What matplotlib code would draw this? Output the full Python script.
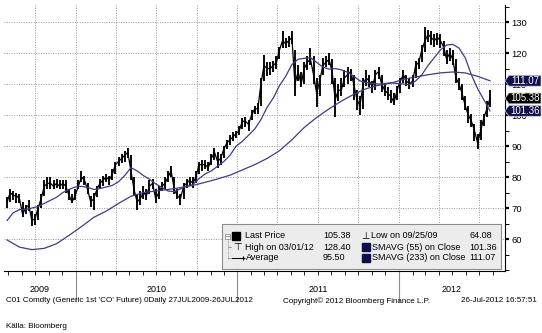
import matplotlib

matplotlib.use("Agg")

import matplotlib.pyplot as plt
import matplotlib.dates as mdates
import pandas as pd
from matplotlib.patches import Polygon, Rectangle
from matplotlib.lines import Line2D
from matplotlib.ticker import MultipleLocator
from matplotlib.transforms import blended_transform_factory

plt.rcParams["font.family"] = ["Liberation Sans", "DejaVu Sans"]

W, H = 542, 333
NAVY = "#0f0f4d"
MA_LINE = "#3d3d85"
GRID = "#9a9a9a"

# weekly Brent front-month bars, 27 Jul 2009 - 26 Jul 2012
close = [72, 75, 74, 74, 73, 68, 70, 71, 66, 66.5, 70, 73, 77, 78, 78, 77, 78, 77, 78, 77, 74, 72, 74, 77,
         80, 79, 76, 72, 73, 76, 78, 79, 80, 79, 81, 84, 85, 86, 87, 88,
         82, 76, 72, 73, 75, 74, 77, 78, 73, 75, 77, 78, 80, 82, 76, 74, 73, 77, 78, 79, 78, 80, 84, 84, 84,
         83, 86, 88, 85, 86, 89, 91, 92, 93, 94,
         95, 98, 98, 97, 100, 102, 102, 110, 116, 115, 115, 116, 117, 121, 124, 123, 124, 125, 110, 114,
         110, 115, 117, 118, 113, 107, 111, 116, 117, 118, 114, 105, 108, 108, 112, 113, 114, 110, 105, 103,
         110, 112, 111,
         109, 113, 114, 110, 108, 107, 106, 104, 108, 111, 113, 111, 110, 111, 116, 117, 121, 124, 126, 125,
         124, 125, 124, 122, 118, 120, 118, 112, 110, 107, 103, 100, 98, 95, 91, 95, 99, 102, 105.38]
lows = [70, 72, 72.5, 71.5, 71.5, 67, 68, 69, 64.08, 64.5, 66, 70, 74, 76, 76, 76, 76.5, 76, 76, 75, 72.5, 71.5, 72.5, 76,
        78.5, 77.5, 74.5, 70.5, 69.5, 73.5, 76, 77, 78.5, 77.5, 79, 81, 83.5, 84.5, 85, 86,
        79, 74, 69.5, 71, 73, 72.5, 74.5, 76, 71.5, 73, 75.5, 76, 78.5, 80, 74.5, 73, 71, 73, 76.5, 77,
        76.5, 78, 81, 82, 82.5, 82, 84, 85.5, 83, 84, 86, 89, 90.5, 91.5, 92.5,
        93.5, 95.5, 96, 95, 98.5, 100.5, 100.5, 103, 111, 112.5, 113, 114, 115, 118, 121.5, 121.5, 122, 123,
        106, 111, 109, 110, 114.5, 116, 110, 102.5, 106, 113, 115.5, 116, 110, 99.4, 104.5, 106, 109, 110,
        111, 105, 101.5, 100, 102, 109.5, 109,
        107, 108, 111.5, 107.5, 106, 105, 104, 103.2, 105, 107, 110.5, 109.5, 108.5, 109, 112, 115, 117, 120.5,
        123.5, 122.5, 122, 122.5, 121.5, 119, 116.5, 117.5, 116, 110.5, 108, 105, 101.5, 97.5, 96, 91.5, 89.2,
        92, 96.5, 99.5, 102.5]
highs = [73.5, 76, 75.5, 75, 74.5, 72, 71, 72.5, 69, 68, 71, 74.5, 79, 80, 80, 79, 79.5, 79, 79, 79, 76, 74.5, 76, 79,
         82, 80.5, 78, 74, 75, 77, 79.5, 80.5, 81, 80.5, 82.5, 85, 86.5, 87.5, 88.5, 89.5,
         87, 80, 74.5, 75.5, 77, 76, 79, 79.5, 76, 77, 78.5, 80, 82, 83.5, 80, 76, 74.5, 78, 79.5, 80,
         80, 82, 85, 85.5, 85.5, 85, 87.5, 89.5, 88, 87.5, 90, 92, 93.5, 94.5, 95,
         96.5, 99, 99.5, 98.5, 101.5, 103, 104, 112, 119.5, 117, 117, 117.5, 119, 122, 127, 125, 125.5, 127,
         121, 116, 114, 117, 119, 121.6, 119, 112, 113, 118.5, 119, 120, 118, 112, 110, 112, 114.5, 115.5,
         115, 113, 108, 106, 112, 114.5, 113,
         111, 114.5, 115.5, 113, 110, 109, 108, 107, 109.5, 112, 114.5, 113, 112, 113, 117.5, 118.5, 122.5, 128.4,
         127.5, 127, 126, 126.5, 126, 124, 121, 121.5, 121, 118, 112, 110, 106, 103, 100.5, 97, 94,
         98.5, 100.5, 104.5, 108]

# SMAVG(55) read every 2nd week, SMAVG(233) every 4th week
sma55 = [66, 68.5, 69.5, 69.5, 70, 70.5, 71.5, 72.5, 73.5, 75, 76,
         76.8, 77, 76.7, 76, 76.3, 76.8, 77.3, 78.5, 80.5, 83,
         82, 80.5, 79.3, 77.8, 76.7, 75.5, 75.3, 76.2, 77, 77.6,
         79.5, 81, 82, 83.5, 85, 87, 90, 91.5, 93.5, 95.5,
         98.5, 102.5, 105.5, 109.5, 112.5, 116.3, 118, 118.3, 118.5, 117,
         115.5, 114.8, 115, 114.6, 113.8, 112.5, 111, 110.5, 110.2, 110,
         110.2, 110.4, 110.2, 110, 109.8, 111, 113, 116, 118.5, 121,
         122.6, 122.8, 121.6, 118.5, 113, 108.5, 105, 101.36]
sma233 = [59.7, 57.4, 56.6, 57, 58.5, 61.2, 64, 67, 69, 71.5, 73.8, 75, 75.5, 76, 76.6, 77.3, 78.3, 79.4,
          80.6, 82.3, 84, 86, 88.5, 92, 96, 99.2, 102, 104.5, 106.7, 108.5, 109.6, 110.3, 111.5, 112.3,
          113, 113.6, 113.9, 113.6, 112.5, 111.07]
average_txt = "95.50"

dates = pd.date_range("2009-07-29", periods=len(close), freq="7D")


def fx(px):
    return px / W


def fy(py):
    return 1 - py / H


fig = plt.figure(figsize=(W / 100, H / 100), dpi=100, facecolor="white")
ax = fig.add_axes([fx(4), fy(271), fx(501), 266 / H])

ax.vlines(dates, lows, highs, color="black", linewidth=1.35, zorder=3)
ax.plot(dates, close, color="black", linewidth=0.9, zorder=3)
ax.plot(dates[::2], sma55, color=MA_LINE, linewidth=0.9, zorder=4)
ax.plot(dates[::4], sma233, color=MA_LINE, linewidth=0.9, zorder=4)

x0, x1 = pd.Timestamp("2009-07-22"), pd.Timestamp("2012-08-28")
ax.set_xlim(x0, x1)
ax.set_ylim(49.7, 135.5)

for s in ["left", "top"]:
    ax.spines[s].set_visible(False)
for s in ["right", "bottom"]:
    ax.spines[s].set_linewidth(0.8)

# value axis on the right
ax.yaxis.tick_right()
ax.set_yticks(range(60, 131, 10))
ax.yaxis.set_minor_locator(MultipleLocator(5))
ax.tick_params(axis="y", which="major", length=3, width=1.6, pad=1.5, labelsize=6.8)
ax.tick_params(axis="y", which="minor", length=3, width=0.7)
ax.yaxis.grid(True, which="major", linestyle=(0, (1, 1.5)), color=GRID, linewidth=0.7)

# time axis: year separators and monthly ticks
ax.xaxis.set_major_locator(mdates.YearLocator())
ax.xaxis.set_minor_locator(mdates.MonthLocator())
ax.tick_params(axis="x", which="major", length=22, width=0.8, color="#8a8a8a", labelbottom=False)
ax.tick_params(axis="x", which="minor", length=3, width=0.6)
for q in pd.date_range("2009-10-01", "2012-07-01", freq="QS"):
    ax.axvline(q, linestyle=(0, (1, 1.5)), color=GRID, linewidth=0.7, zorder=1)

ylab = blended_transform_factory(ax.transData, fig.transFigure)
for yr in [2009, 2010, 2011, 2012]:
    a = max(pd.Timestamp(f"{yr}-01-01"), x0)
    b = min(pd.Timestamp(f"{yr + 1}-01-01"), x1)
    ax.text(a + (b - a) / 2, fy(289), str(yr), transform=ylab, ha="center", va="center", fontsize=6.5)

# last-value tags at the right edge
tag = blended_transform_factory(fig.transFigure, ax.transData)
for val, col in [(sma233[-1], NAVY), (close[-1], "black"), (sma55[-1], NAVY)]:
    hh = 1.75
    pts = [(fx(505), val), (fx(509), val + hh), (fx(541), val + hh), (fx(541), val - hh), (fx(509), val - hh)]
    ax.add_patch(Polygon(pts, closed=True, transform=tag, facecolor=col, edgecolor="#d0d0d0",
                         linewidth=0.5, clip_on=False, zorder=10))
    ax.text(fx(525), val, f"{val:.2f}", transform=tag, ha="center", va="center",
            color="white", fontsize=7, zorder=11, clip_on=False)

# legend panel
fig.add_artist(Rectangle((fx(222), fy(269)), fx(279), 45 / H, transform=fig.transFigure,
                         facecolor="#ececec", edgecolor="#8c8c8c", linewidth=0.8))
rows = [236, 247, 258]


def ftext(px, py, s, **kw):
    kw.setdefault("fontsize", 6.5)
    fig.text(fx(px), fy(py), s, va="center", ha=kw.pop("ha", "left"), **kw)


fig.add_artist(Rectangle((fx(225), fy(238.5)), fx(5), 5 / H, transform=fig.transFigure,
                         facecolor="white", edgecolor="#777777", linewidth=0.5))
fig.add_artist(Line2D([fx(226), fx(229)], [fy(236), fy(236)], color="#555555", linewidth=0.5))
fig.add_artist(Line2D([fx(227.5), fx(227.5)], [fy(239), fy(259)], color="#777777", linewidth=0.5,
                      linestyle=(0, (1, 1))))
for r in rows[1:]:
    fig.add_artist(Line2D([fx(227.5), fx(231)], [fy(r), fy(r)], color="#777777", linewidth=0.5))

fig.add_artist(Rectangle((fx(232), fy(240)), fx(8), 8 / H, transform=fig.transFigure,
                         facecolor="black", edgecolor="black"))
ftext(237, rows[1], "\u22a4", fontsize=7, ha="center", family=["DejaVu Sans"])
fig.add_artist(Line2D([fx(232), fx(243)], [fy(rows[2]), fy(rows[2])], color="black", linewidth=0.7,
                      marker="+", markevery=[1], markersize=3.5, markeredgewidth=0.8))

ftext(245, rows[0], "Last Price")
ftext(245, rows[1], "High on 03/01/12")
ftext(246, rows[2], "Average")
ftext(323, rows[0], f"{close[-1]:.2f}")
ftext(323, rows[1], f"{max(highs):.2f}")
ftext(323, rows[2], average_txt)

ftext(365, rows[0], "\u22a5", fontsize=7, ha="center", family=["DejaVu Sans"])
for r in rows[1:]:
    fig.add_artist(Rectangle((fx(362), fy(r + 4)), fx(8), 8 / H, transform=fig.transFigure,
                             facecolor=NAVY, edgecolor=NAVY))
ftext(371, rows[0], "Low on 09/25/09")
ftext(372, rows[1], "SMAVG (55) on Close")
ftext(372, rows[2], "SMAVG (233) on Close")
ftext(469, rows[0], f"{min(lows):.2f}")
ftext(469, rows[1], f"{sma55[-1]:.2f}")
ftext(469, rows[2], f"{sma233[-1]:.2f}")

# footer
ftext(6, 301, "C01 Comdty (Generic 1st 'CO' Future) 0Daily 27JUL2009-26JUL2012", fontsize=5.8)
ftext(283, 301, "Copyright\u00a9 2012 Bloomberg Finance L.P.", fontsize=5.8)
ftext(537, 301, "26-Jul-2012 16:57:51", fontsize=5.8, ha="right")
ftext(6, 326, "K\u00e4lla: Bloomberg", fontsize=5.8)

fig.savefig("out.png", dpi=100)
